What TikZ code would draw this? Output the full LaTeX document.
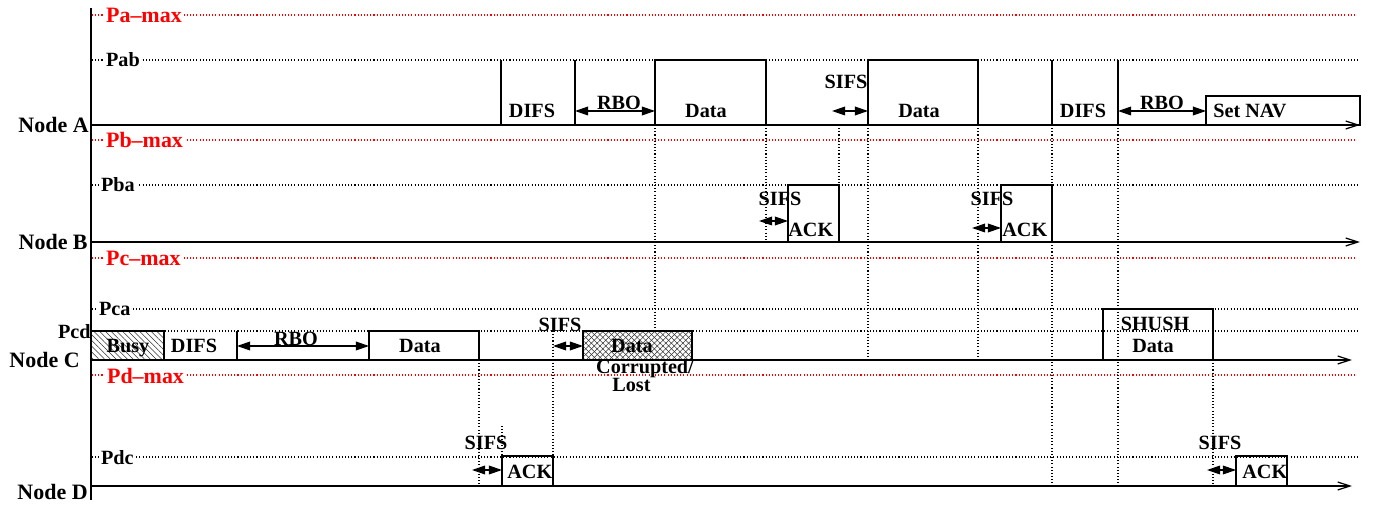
\documentclass[tikz,border=0pt]{standalone}
\usepackage{fontspec}
\setmainfont{Liberation Serif}
\usetikzlibrary{arrows.meta, patterns.meta}

\tikzset{
    lbl/.style = {font=\fontsize{11.5}{12}\selectfont\bfseries, inner sep=0pt},
    biglbl/.style = {font=\fontsize{12.5}{13}\selectfont\bfseries, inner sep=0pt},
    maxlbl/.style = {biglbl, text=red, fill=white, inner sep=1pt},
    levlbl/.style = {lbl, fill=white, inner sep=1pt},
    frame/.style = {line width=0.7pt},
    timeline/.style = {frame, -{Straight Barb[length=7pt, width=4.5pt]}},
    gap/.style = {frame, {Triangle[length=7.5pt, width=5pt]}-{Triangle[length=7.5pt, width=5pt]}},
    level/.style = {line width=0.6pt, dash pattern=on 0.6pt off 1.2pt},
    maxlevel/.style = {level, red},
    hatchA/.style = {pattern={Lines[angle=-45, distance=2.3pt, line width=0.3pt]}, pattern color=black!80},
    hatchB/.style = {pattern={Lines[angle=45, distance=2.3pt, line width=0.3pt]}, pattern color=black!80}
}

\begin{document}
\begin{tikzpicture}[x=0.02cm, y=-0.02cm]
    \useasboundingbox (0,0) rectangle (1379,506);

    \foreach \y in {60,185,309,331,457}
        \draw[level] (92,\y) -- (1358,\y);
    \foreach \y in {15,140,258,375}
        \draw[maxlevel] (92,\y) -- (1355,\y);
    \foreach \x/\ya/\yb in {655/125/331, 766/125/242, 839/125/185, 868/125/360, 978/125/360,
        1052/125/486, 1118/125/486, 479/360/486, 553/331/456, 502/426/456, 1213/360/486}
        \draw[level] (\x,\ya) -- (\x,\yb);

    \node[maxlbl, anchor=base west] (pamax) at (104,23) {Pa--max};
    \node[levlbl, anchor=base west] (pab) at (104,67) {Pab};
    \node[maxlbl, anchor=base west] (pbmax) at (104,148) {Pb--max};
    \node[levlbl, anchor=base west] (pba) at (99,192) {Pba};
    \node[maxlbl, anchor=base west] (pcmax) at (104,266) {Pc--max};
    \node[levlbl, anchor=base west] (pca) at (97,316) {Pca};
    \node[lbl, anchor=base east] (pcd) at (91,338) {Pcd};
    \node[maxlbl, anchor=base west] (pdmax) at (105,383) {Pd--max};
    \node[levlbl, anchor=base west] (pdc) at (99,464) {Pdc};

    \coordinate (top) at (91,8);
    \coordinate (bot) at (91,500);
    \draw[frame] (top) -- (bot);
    \foreach \n/\y/\xe in {A/125/1360, B/242/1360, C/360/1352, D/486/1352} {
        \coordinate (t\n0) at (91,\y);
        \coordinate (t\n1) at (\xe,\y);
        \draw[timeline] (t\n0) -- (t\n1);
    }
    \node[biglbl, anchor=base east] (nodeA) at (89,133) {Node A};
    \node[biglbl, anchor=base east] (nodeB) at (88,250) {Node B};
    \node[biglbl, anchor=base east] (nodeC) at (80,368) {Node C};
    \node[biglbl, anchor=base east] (nodeD) at (88,499) {Node D};

    \draw[frame] (501,60) -- (501,125);
    \draw[frame] (575,60) -- (575,125);
    \draw[frame] (655,125) rectangle (766,60);
    \draw[frame] (868,125) rectangle (978,60);
    \draw[frame] (1052,60) -- (1052,125);
    \draw[frame] (1118,60) -- (1118,125);
    \draw[frame] (1206,125) rectangle (1360,96);
    \draw[frame] (788,242) rectangle (839,185);
    \draw[frame] (1001,242) rectangle (1052,185);
    \draw[frame, hatchA] (91,360) rectangle (164,331);
    \draw[frame] (237,331) -- (237,360);
    \draw[frame] (369,360) rectangle (479,331);
    \fill[hatchA] (583,360) rectangle (692,331);
    \draw[frame, hatchB] (583,360) rectangle (692,331);
    \draw[frame] (1103,360) rectangle (1213,309);
    \draw[frame] (502,486) rectangle (553,456);
    \draw[frame] (1236,486) rectangle (1287,456);

    \foreach \n/\xa/\xb/\y in {ga1/575/655/111, ga2/832/868/111, ga3/1118/1206/111,
        gb1/759/788/221, gb2/972/1001/228, gc1/237/369/346, gc2/553/583/346,
        gd1/472/502/470, gd2/1207/1236/470} {
        \coordinate (\n l) at (\xa,\y);
        \coordinate (\n r) at (\xb,\y);
        \draw[gap] (\n l) -- (\n r);
    }

    \node[lbl, anchor=base] (difsA1) at (532,118) {DIFS};
    \node[lbl, anchor=base] (rboA1) at (619,110) {RBO};
    \node[lbl, anchor=base] (dataA1) at (706,118) {Data};
    \node[lbl, anchor=base] (sifsA) at (846,89) {SIFS};
    \node[lbl, anchor=base] (dataA2) at (919,118) {Data};
    \node[lbl, anchor=base] (difsA2) at (1083,118) {DIFS};
    \node[lbl, anchor=base] (rboA2) at (1162,110) {RBO};
    \node[lbl, anchor=base west] (nav) at (1213,118) {Set NAV};

    \node[lbl, anchor=base west] (ackB1) at (788,237) {ACK};
    \node[lbl, anchor=base] (sifsB1) at (780,206) {SIFS};
    \node[lbl, anchor=base west] (ackB2) at (1002,237) {ACK};
    \node[lbl, anchor=base] (sifsB2) at (992,206) {SIFS};

    \node[lbl, anchor=base] (busy) at (128,353) {Busy};
    \node[lbl, anchor=base] (difsC) at (194,353) {DIFS};
    \node[lbl, anchor=base] (rboC) at (296,346) {RBO};
    \node[lbl, anchor=base] (dataC1) at (420,353) {Data};
    \node[lbl, anchor=base] (sifsC) at (560,332) {SIFS};
    \node[lbl, anchor=base] (dataC2) at (632,353) {Data};
    \node[lbl, anchor=base] (corrupt) at (645,374) {Corrupted/};
    \node[lbl, anchor=base west] (lost) at (612,392) {Lost};
    \node[lbl, anchor=base] (shush) at (1155,331) {SHUSH};
    \node[lbl, anchor=base] (dataC3) at (1153,353) {Data};

    \node[lbl, anchor=base west] (ackD1) at (507,478) {ACK};
    \node[lbl, anchor=base] (sifsD1) at (486,449) {SIFS};
    \node[lbl, anchor=base west] (ackD2) at (1242,478) {ACK};
    \node[lbl, anchor=base] (sifsD2) at (1220,449) {SIFS};
\end{tikzpicture}
\end{document}
